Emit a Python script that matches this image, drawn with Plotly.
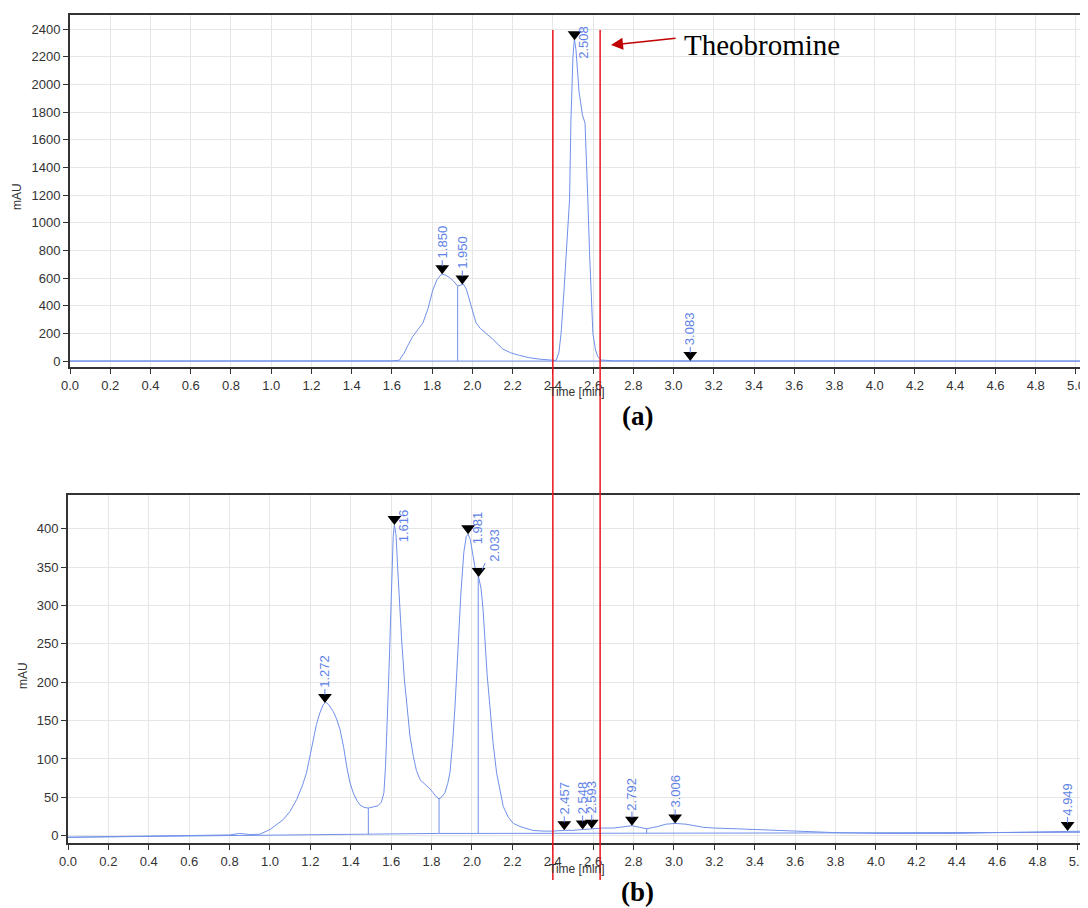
import numpy as np
import plotly.graph_objects as go

# ---------------- data ----------------
# (a) standard chromatogram
time_a = [0.0, 1.0, 1.60, 1.637, 1.66, 1.68, 1.703, 1.73, 1.753, 1.78, 1.803, 1.825, 1.847,
          1.865, 1.886, 1.905, 1.927, 1.94, 1.955, 1.97, 1.985, 2.0, 2.018, 2.04, 2.068, 2.10,
          2.151, 2.19, 2.234, 2.28, 2.333, 2.37, 2.40, 2.416, 2.43, 2.441, 2.455, 2.466, 2.475,
          2.483, 2.49, 2.50, 2.507, 2.515, 2.53, 2.547, 2.56, 2.567, 2.574, 2.582, 2.59, 2.599,
          2.612, 2.624, 2.64, 2.70, 3.0, 3.083, 3.2, 4.0, 5.06]
signal_a = [0, 0, 1, 6, 55, 115, 176, 230, 272, 380, 513, 590, 629,
            622, 605, 580, 542, 548, 557, 520, 441, 360, 277, 235, 200, 160,
            87, 60, 41, 25, 14, 8, 5, 4, 60, 200, 500, 800, 1000,
            1165, 1743, 2200, 2330, 2250, 1950, 1780, 1720, 1500, 1164, 800, 500, 200,
            80, 31, 7, 2, 1, 1, 0, 0, 0]
baseline_time_a = [0.0, 5.06]
baseline_a = [0, 0]
drops_a = [1.927]
peaks_a = [1.850, 1.950, 2.508, 3.083]
peak_labels_a = ["1.850", "1.950", "2.508", "3.083"]

# (b) sample chromatogram
time_b = [0.0, 0.3, 0.6, 0.8, 0.85, 0.9, 0.95, 1.0, 1.066, 1.1, 1.132, 1.16, 1.181, 1.2, 1.214,
          1.23, 1.247, 1.262, 1.275, 1.29, 1.313, 1.33, 1.347, 1.365, 1.38, 1.395, 1.412, 1.43,
          1.446, 1.465, 1.487, 1.51, 1.535, 1.552, 1.564, 1.572, 1.578, 1.586, 1.594, 1.603,
          1.61, 1.616, 1.624, 1.633, 1.643, 1.652, 1.665, 1.677, 1.693, 1.71, 1.725, 1.743,
          1.76, 1.776, 1.792, 1.808, 1.822, 1.837, 1.852, 1.866, 1.88, 1.891, 1.904, 1.916,
          1.924, 1.932, 1.945, 1.96, 1.972, 1.981, 1.992, 2.005, 2.018, 2.033, 2.045, 2.055,
          2.064, 2.075, 2.089, 2.105, 2.122, 2.14, 2.155, 2.18, 2.205, 2.238, 2.27, 2.3, 2.35,
          2.4, 2.457, 2.5, 2.548, 2.593, 2.65, 2.7, 2.75, 2.792, 2.83, 2.865, 2.92, 2.96, 3.006,
          3.06, 3.145, 3.2, 3.31, 3.4, 3.6, 3.8, 4.0, 4.2, 4.4, 4.6, 4.8, 4.949, 5.05]
signal_b = [-2, -1, 0, 1, 3, 1.5, 2, 8, 21, 32, 47, 65, 82, 105, 125,
            145, 160, 170, 174, 171, 162, 152, 138, 115, 90, 70, 56, 46,
            40, 37, 36, 37, 39, 44, 56, 90, 125, 190, 255, 340,
            390, 405, 392, 345, 295, 255, 205, 168, 130, 103, 85, 73,
            69, 66, 61, 56, 51, 48, 51, 56, 68, 82, 120, 168,
            210, 255, 315, 370, 390, 393, 386, 365, 345, 337, 322, 295,
            255, 210, 168, 120, 82, 55, 38, 24, 16, 12, 9, 7, 6,
            6, 7, 7, 8, 9, 10, 10, 12, 13, 11, 9, 12, 15, 16,
            15, 11, 10, 9, 8, 6, 4, 3, 3, 3, 4, 5, 6, 6]
baseline_time_b = [0.0, 0.95, 1.49, 1.84, 2.03, 2.3, 2.87, 3.5, 5.05]
baseline_b = [-2, 1, 2, 3, 3, 3, 3, 3.5, 4.5]
drops_b = [1.487, 1.837, 2.031, 2.865]
peaks_b = [1.272, 1.616, 1.981, 2.033, 2.457, 2.548, 2.593, 2.792, 3.006, 4.949]
peak_labels_b = ["1.272", "1.616", "1.981", "2.033", "2.457", "2.548", "2.593",
                 "2.792", "3.006", "4.949"]

theobromine_window = [2.40, 2.635]

# ---------------- styles ----------------
PAGE_OFF = 8            # default page body margin
W, H = 1088 - PAGE_OFF, 908 - PAGE_OFF
LINE = "#7090ea"
LABEL = "#5f82e6"
AX = "#333333"
GRID = "#e6e6e6"
FONT = "Liberation Sans, Arial, sans-serif"
TRI_SIZE = 12


def px(x):
    return (x - PAGE_OFF) / W


def py(y):
    return 1 - (y - PAGE_OFF) / H


dom_x_a = [px(70), 1.0]
dom_y_a = [py(367), py(15)]
dom_x_b = [px(68), 1.0]
dom_y_b = [py(843), py(495)]
xr_a = [0, 5.06]
xr_b = [0, 5.05]
yr_a = [-43, 2502]
yr_b = [-9.5, 444]

# label offsets (pixels) for the text relative to the peak apex
label_off_a = {"2.508": (9, 2)}
label_off_b = {"1.616": (10, 1), "1.981": (9, -6), "2.033": (15, -32)}
DEFAULT_OFF = (0, -32)

fig = go.Figure()


def units_per_px(dom, rng):
    return (rng[1] - rng[0]) / ((dom[1] - dom[0]) * H)


def add_panel(t, s, bt, bv, drops, peaks, labels, xa, ya, dom_y, yr, offs):
    fig.add_trace(go.Scatter(x=bt, y=bv, mode="lines", line=dict(color=LINE, width=1),
                             xaxis=xa, yaxis=ya, hoverinfo="skip", showlegend=False))
    fig.add_trace(go.Scatter(x=t, y=s, mode="lines", line=dict(color=LINE, width=1),
                             xaxis=xa, yaxis=ya, showlegend=False))
    # drop lines
    dx, dy = [], []
    for d in drops:
        dx += [d, d, None]
        dy += [float(np.interp(d, bt, bv)), float(np.interp(d, t, s)), None]
    fig.add_trace(go.Scatter(x=dx, y=dy, mode="lines", line=dict(color=LINE, width=1),
                             xaxis=xa, yaxis=ya, hoverinfo="skip", showlegend=False))
    # peak markers (apex of the down-triangle touches the peak)
    upp = units_per_px(dom_y, yr)
    apex = [float(np.interp(p, t, s)) for p in peaks]
    fig.add_trace(go.Scatter(x=peaks, y=[a + TRI_SIZE / 2 * upp for a in apex], mode="markers",
                             marker=dict(symbol="triangle-down", size=TRI_SIZE, color="black"),
                             xaxis=xa, yaxis=ya, hoverinfo="skip", showlegend=False))
    for p, a, lab in zip(peaks, apex, labels):
        ox, oy = offs.get(lab, DEFAULT_OFF)
        fig.add_annotation(x=p, y=a, xref=xa, yref=ya, text=lab, textangle=-90,
                           showarrow=True, arrowhead=0, arrowwidth=1, arrowcolor=LABEL,
                           standoff=8, ax=ox, ay=oy,
                           font=dict(family=FONT, size=13, color=LABEL))


add_panel(time_a, signal_a, baseline_time_a, baseline_a, drops_a, peaks_a, peak_labels_a,
          "x", "y", dom_y_a, yr_a, label_off_a)
add_panel(time_b, signal_b, baseline_time_b, baseline_b, drops_b, peaks_b, peak_labels_b,
          "x2", "y2", dom_y_b, yr_b, label_off_b)

axis_common = dict(showgrid=True, gridcolor=GRID, gridwidth=1, zeroline=False,
                   showline=True, linecolor=AX, linewidth=2, ticks="outside",
                   ticklen=5, tickwidth=1, tickcolor=AX, automargin=False,
                   tickfont=dict(family=FONT, size=13, color=AX))

fig.update_layout(
    width=W, height=H, margin=dict(l=0, r=0, t=0, b=0, pad=0),
    paper_bgcolor="white", plot_bgcolor="white", showlegend=False,
    xaxis=dict(domain=dom_x_a, range=xr_a, dtick=0.2, tick0=0, tickformat=".1f",
               mirror=True, anchor="y", **axis_common),
    yaxis=dict(domain=dom_y_a, range=yr_a, dtick=200, tick0=0, anchor="x", **axis_common),
    xaxis2=dict(domain=dom_x_b, range=xr_b, dtick=0.2, tick0=0, tickformat=".1f",
                mirror=True, anchor="y2", **axis_common),
    yaxis2=dict(domain=dom_y_b, range=yr_b, dtick=50, tick0=0, anchor="x2", **axis_common),
)

# axis titles as annotations
for txt, x, y, ang in [("Time [min]", 577, 392, 0), ("Time [min]", 577, 869, 0),
                       ("mAU", 17, 197, -90), ("mAU", 23, 676, -90)]:
    fig.add_annotation(x=px(x), y=py(y), xref="paper", yref="paper", text=txt,
                       textangle=ang, showarrow=False, xanchor="center", yanchor="middle",
                       font=dict(family=FONT, size=12, color=AX))

# red window lines spanning both panels
for xv in theobromine_window:
    fig.add_shape(type="line", xref="x", yref="paper", x0=xv, x1=xv,
                  y0=py(880), y1=py(30), line=dict(color="#e8141b", width=1.5),
                  layer="above")

# Theobromine label and arrow
fig.add_annotation(x=px(761.5), y=py(45), xref="paper", yref="paper", text="Theobromine",
                   showarrow=False, xanchor="center", yanchor="middle",
                   font=dict(family="Liberation Serif, Times New Roman, serif", size=29,
                             color="black"))
fig.add_annotation(x=px(611), y=py(45), xref="paper", yref="paper", text="",
                   showarrow=True, arrowhead=2, arrowsize=1.6, arrowwidth=1.5,
                   arrowcolor="#c00000", ax=66, ay=-7)

for txt, y in [("<b>(a)</b>", 416), ("<b>(b)</b>", 892)]:
    fig.add_annotation(x=px(637), y=py(y), xref="paper", yref="paper", text=txt,
                       showarrow=False, xanchor="center", yanchor="middle",
                       font=dict(family="Liberation Serif, Times New Roman, serif", size=27,
                                 color="black"))

fig.write_html("out.html")
